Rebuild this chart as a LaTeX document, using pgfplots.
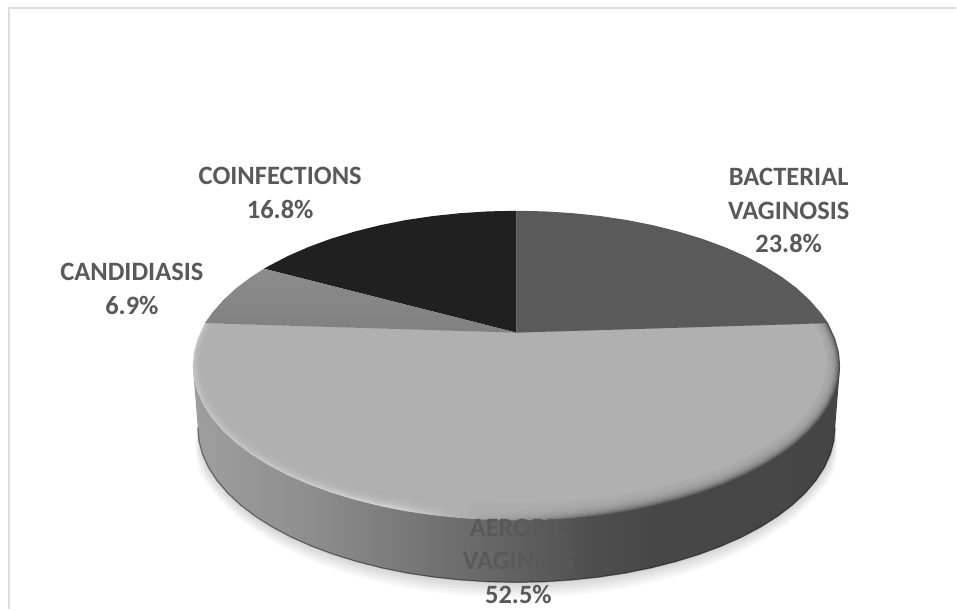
\documentclass[border=0pt]{standalone}
\usepackage{fontspec}
\setmainfont{Carlito}
\usepackage{pgfplots}
\usepackage{pgfplotstable}
\pgfplotsset{compat=1.18}

% all tables are in pixels of the reference, y downwards
\pgfplotstableread{
x y
517 332
517 210
545.2 210.6
573.3 212.4
600.9 215.3
627.8 219.3
653.9 224.5
679 230.8
702.8 238
725.3 246.3
746.1 255.4
765.2 265.4
782.4 276.1
797.6 287.5
810.6 299.5
821.5 312
829 322.5
}\bacterial
\pgfplotstableread{
x y
517 332
517 210
488.8 210.6
460.7 212.4
433.1 215.3
406.2 219.3
380.1 224.5
355 230.8
331.2 238
308.7 246.3
287.9 255.4
268.8 265.4
264.2 268
}\coinf
\pgfplotstableread{
x y
517 332
264.2 268
251.6 276.1
236.4 287.5
223.4 299.5
212.5 312
205 322.5
}\candida
\pgfplotstableread{
x y
517 332
205 322.5
204 324.9
197.9 338.1
194.2 351.5
193 365
194.2 378.5
197.9 391.9
204 405.1
212.5 418
223.4 430.5
236.4 442.5
251.6 453.9
268.8 464.6
287.9 474.6
308.7 483.7
331.2 492
355 499.2
380.1 505.5
406.2 510.7
433.1 514.7
460.7 517.6
488.8 519.4
517 520
545.2 519.4
573.3 517.6
600.9 514.7
627.8 510.7
653.9 505.5
679 499.2
702.8 492
725.3 483.7
746.1 474.6
765.2 464.6
782.4 453.9
797.6 442.5
810.6 430.5
821.5 418
830 405.1
836.1 391.9
839.8 378.5
841 365
839.8 351.5
836.1 338.1
830 324.9
829 322.5
}\aerobic
\pgfplotstableread{
x y
198 427
199.2 440.5
202.8 453.9
208.8 467.1
217.2 480
227.9 492.5
240.7 504.5
255.7 515.9
272.6 526.6
291.4 536.6
311.9 545.7
334.1 554
357.5 561.2
382.2 567.5
407.9 572.7
434.4 576.7
461.6 579.6
489.2 581.4
517 582
544.8 581.4
572.4 579.6
599.6 576.7
626.1 572.7
651.8 567.5
676.5 561.2
699.9 554
722.1 545.7
742.6 536.6
761.4 526.6
778.3 515.9
793.3 504.5
806.1 492.5
816.8 480
825.2 467.1
831.2 453.9
834.8 440.5
836 427
}\lowerrim

\pgfdeclarehorizontalshading{sideshade}{100bp}{
  rgb(0bp)=(.62,.62,.62); rgb(25bp)=(.62,.62,.62); rgb(33.3bp)=(.56,.56,.56);
  rgb(40.7bp)=(.48,.48,.48); rgb(46.4bp)=(.42,.42,.42); rgb(50bp)=(.38,.38,.38);
  rgb(55.6bp)=(.31,.31,.31); rgb(60.3bp)=(.28,.28,.28); rgb(75bp)=(.27,.27,.27);
  rgb(100bp)=(.27,.27,.27)}
\pgfdeclarehorizontalshading{lipshade}{100bp}{
  rgb(0bp)=(.78,.78,.78); rgb(25bp)=(.78,.78,.78); rgb(33.3bp)=(.80,.80,.80);
  rgb(40.7bp)=(.84,.84,.84); rgb(46.4bp)=(.68,.68,.68); rgb(50bp)=(.58,.58,.58);
  rgb(55.6bp)=(.42,.42,.42); rgb(60.3bp)=(.34,.34,.34); rgb(68.7bp)=(.30,.30,.30);
  rgb(75bp)=(.28,.28,.28); rgb(100bp)=(.28,.28,.28)}

\definecolor{lbl}{HTML}{595959}
\definecolor{face}{HTML}{B0B0B0}
\definecolor{frameline}{HTML}{DDDDDD}
\tikzset{lab/.style={font=\bfseries\fontsize{26.5}{33.5}\selectfont, text=lbl, align=center, inner sep=0pt}}

\begin{document}
\begin{tikzpicture}
\begin{axis}[width=957pt, height=610pt, scale only axis, hide axis, clip=false,
    xmin=0, xmax=957, ymin=-1, ymax=609, y dir=reverse]
  % page and frame
  \addplot[draw=none, fill=white] coordinates {(0,-1) (957,-1) (957,609) (0,609)};
  \addplot[frameline, line width=2pt] coordinates {(9,609) (9,7.5) (957,7.5)};

  % soft shadow under the disc
  \pgfplotsinvokeforeach{1.030,1.024,1.018,1.012,1.006}{
    \addplot[draw=none, fill=black, fill opacity=.03] table[
      x expr={517+(\thisrow{x}-517)*(1+(#1-1)*min(1,(\thisrow{y}-427)/40))},
      y expr={427+(\thisrow{y}-427)*(1+(#1-1)*3.3)}] {\lowerrim};
  }

  % side wall
  \addplot[draw=none, shade, shading=sideshade] coordinates {(193,365) (198.3,431) (835.7,431) (841,365)};
  \addplot[draw=none, shade, shading=sideshade] table {\lowerrim};
  \addplot[draw=black, draw opacity=.45, line width=1.2pt] table {\lowerrim};

  % aerobic slice with its bevelled lip
  \addplot[draw=none, shade, shading=lipshade] table {\aerobic};
  \pgfplotsinvokeforeach{.9975,.995,.9925,.99,.9875,.985,.9825,.98,.9775,.975,.9725,.97,.9675,.965,.9625,.96}{
    \addplot[draw=none, fill=face, fill opacity=.2] table[
      x expr={517+(\thisrow{x}-517)*#1},
      y expr={332+(\thisrow{y}-332)*(1-(1-#1)*2.2)}] {\aerobic};
  }
  \addplot[draw=none, fill=face] table[
      x expr={517+(\thisrow{x}-517)*.958},
      y expr={332+(\thisrow{y}-332)*.908}] {\aerobic};

  % remaining slices
  \addplot[draw=none, fill={rgb,255:red,90;green,90;blue,90}] table {\bacterial};
  \addplot[draw=none, fill={rgb,255:red,32;green,32;blue,32}] table {\coinf};
  \addplot[draw=none, top color={rgb,255:red,140;green,140;blue,140},
           bottom color={rgb,255:red,128;green,128;blue,128}] table {\candida};

  \node[lab] at (axis cs:789.5,210) {BACTERIAL\\VAGINOSIS\\23.8\%};
  \node[lab] at (axis cs:519,561) {AEROBIC\\VAGINITIS\\52.5\%};
  \node[lab] at (axis cs:132,288) {CANDIDIASIS\\6.9\%};
  \node[lab] at (axis cs:280.5,192) {COINFECTIONS\\16.8\%};
\end{axis}
\end{tikzpicture}
\end{document}
